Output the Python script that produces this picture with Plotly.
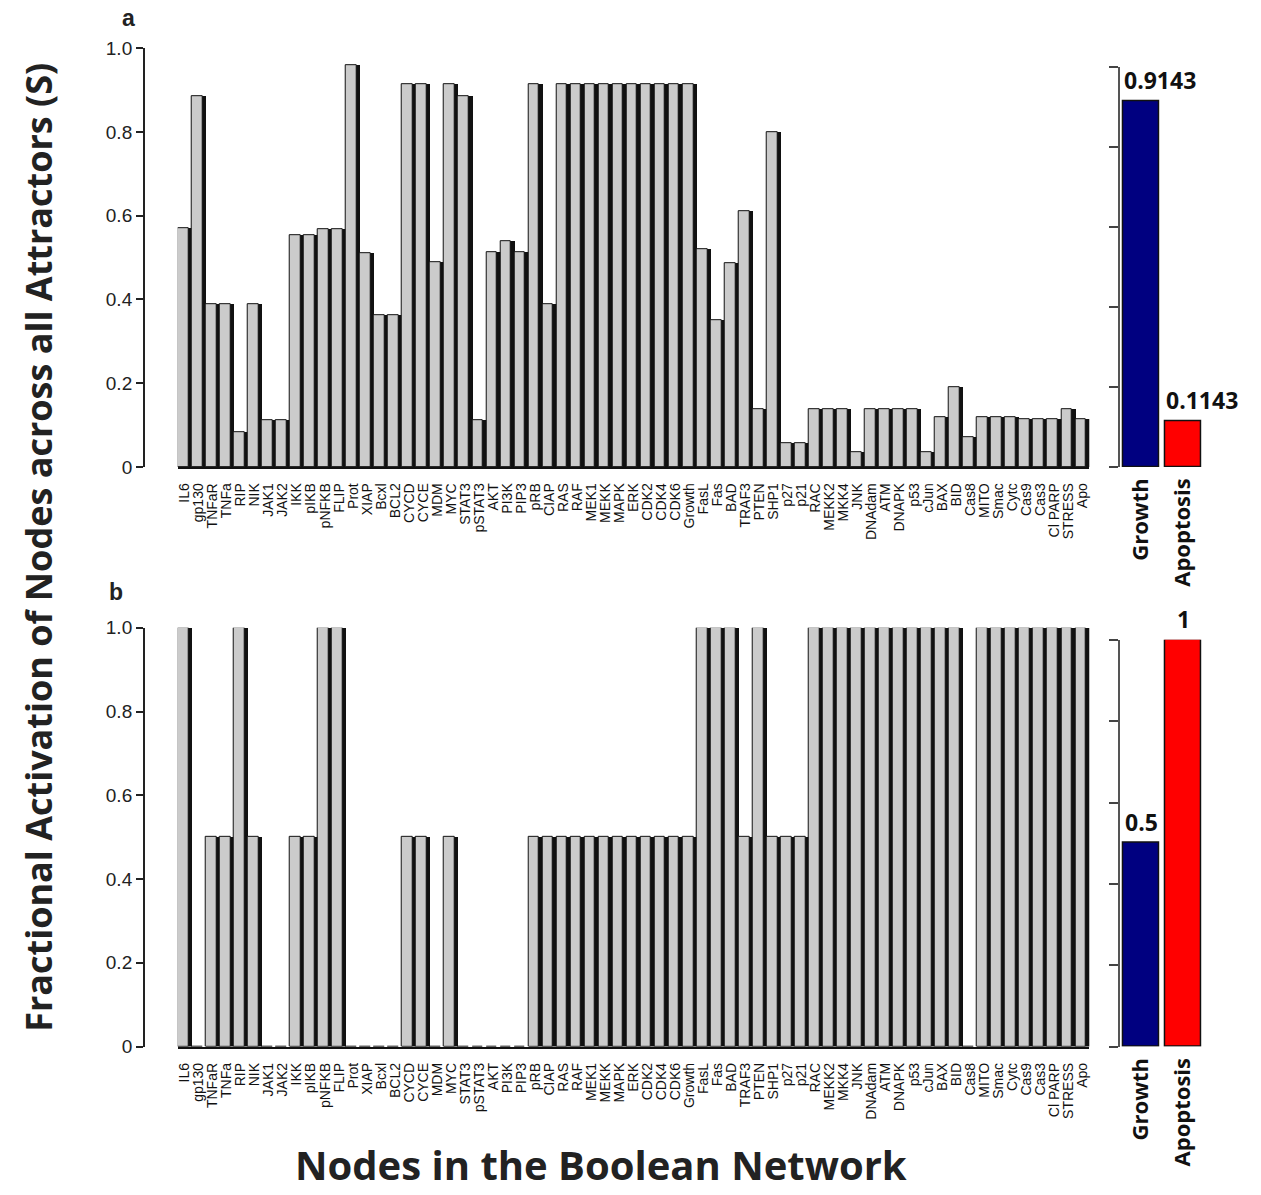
import plotly.graph_objects as go

# ---------------- data ----------------
nodes = ["IL6", "gp130", "TNFaR", "TNFa", "RIP", "NIK", "JAK1", "JAK2", "IKK", "pIKB",
         "pNFKB", "FLIP", "Prot", "XIAP", "Bcxl", "BCL2", "CYCD", "CYCE", "MDM", "MYC",
         "STAT3", "pSTAT3", "AKT", "PI3K", "PIP3", "pRB", "CIAP", "RAS", "RAF", "MEK1",
         "MEKK", "MAPK", "ERK", "CDK2", "CDK4", "CDK6", "Growth", "FasL", "Fas", "BAD",
         "TRAF3", "PTEN", "SHP1", "p27", "p21", "RAC", "MEKK2", "MKK4", "JNK", "DNAdam",
         "ATM", "DNAPK", "p53", "cJun", "BAX", "BID", "Cas8", "MITO", "Smac", "Cytc",
         "Cas9", "Cas3", "Cl PARP", "STRESS", "Apo"]

activation_a = [0.570, 0.886, 0.389, 0.389, 0.083, 0.389, 0.111, 0.111, 0.553, 0.553,
                0.567, 0.567, 0.960, 0.510, 0.362, 0.362, 0.914, 0.914, 0.490, 0.914,
                0.886, 0.111, 0.514, 0.540, 0.514, 0.914, 0.389, 0.914, 0.914, 0.914,
                0.914, 0.914, 0.914, 0.914, 0.914, 0.914, 0.914, 0.520, 0.350, 0.486,
                0.610, 0.139, 0.800, 0.056, 0.056, 0.139, 0.139, 0.139, 0.036, 0.139,
                0.139, 0.139, 0.139, 0.036, 0.120, 0.190, 0.071, 0.120, 0.120, 0.120,
                0.114, 0.114, 0.114, 0.139, 0.114]

activation_b = [1, 0, 0.5, 0.5, 1, 0.5, 0, 0, 0.5, 0.5,
                1, 1, 0, 0, 0, 0, 0.5, 0.5, 0, 0.5,
                0, 0, 0, 0, 0, 0.5, 0.5, 0.5, 0.5, 0.5,
                0.5, 0.5, 0.5, 0.5, 0.5, 0.5, 0.5, 1, 1, 1,
                0.5, 1, 0.5, 0.5, 0.5, 1, 1, 1, 1, 1,
                1, 1, 1, 1, 1, 1, 0, 1, 1, 1,
                1, 1, 1, 1, 1]

fates = ["Growth", "Apoptosis"]
fate_a = [0.9143, 0.1143]
fate_b = [0.5, 1]
fate_colors = ["#000080", "#FF0000"]

y_ticks = [0, 0.2, 0.4, 0.6, 0.8, 1.0]
y_ticktext = ["0", "0.2", "0.4", "0.6", "0.8", "1.0"]

# ---------------- geometry helpers ----------------
W, H = 1261, 1195
def px(x): return x / W
# vertical calibration of the rendered page (observed slight squash/offset)
def py(y): return 1 - ((y - 9.8) / 0.983) / H

fig = go.Figure()

BOLD = "Open Sans"

def main_panel(vals, xa, ya):
    # dark right-hand stripe of each bar
    fig.add_trace(go.Bar(x=nodes, y=vals, xaxis=xa, yaxis=ya, width=1.0, offset=-0.5,
                         marker=dict(color="#111111", line=dict(width=0)),
                         cliponaxis=False, showlegend=False, hoverinfo="skip"))
    # light grey body with black outline
    fig.add_trace(go.Bar(x=nodes, y=vals, xaxis=xa, yaxis=ya, width=0.76, offset=-0.5,
                         marker=dict(color="#CBCBCB", line=dict(color="#111111", width=1)),
                         cliponaxis=False, showlegend=False))

def side_panel(vals, xa, ya):
    fig.add_trace(go.Bar(x=fates, y=vals, xaxis=xa, yaxis=ya, width=0.84,
                         marker=dict(color=fate_colors, line=dict(color="#111111", width=1.5)),
                         cliponaxis=False, showlegend=False))
    for f, v in zip(fates, vals):
        lab = f"{v:g}"
        fig.add_annotation(x=f, y=v, xref=xa, yref=ya, text=f"<b>{lab}</b>",
                           showarrow=False, yanchor="bottom", yshift=3,
                           xanchor="left" if len(lab) > 3 else "center",
                           xshift=-19 if len(lab) > 3 else 0,
                           font=dict(family=BOLD, size=23, color="#111111"))

main_panel(activation_a, "x", "y")
side_panel(fate_a, "x2", "y2")
main_panel(activation_b, "x3", "y3")
side_panel(fate_b, "x4", "y4")

main_x = dict(range=[-0.5, len(nodes) - 0.5], domain=[px(177), px(1090)], tickangle=-90,
              tickmode="linear", tick0=0, dtick=1,
              tickfont=dict(family="Liberation Sans", size=14, color="#111111"),
              ticks="", ticklabelstandoff=9, showline=True, linecolor="#111111",
              linewidth=1.5, showgrid=False, zeroline=False, type="category")
main_y = dict(range=[0, 1], tickvals=y_ticks, ticktext=y_ticktext, ticks="outside",
              ticklen=7, tickwidth=1.5, tickcolor="#222222", showline=True,
              linecolor="#222222", linewidth=1.5, showgrid=False, zeroline=False,
              tickfont=dict(family="Liberation Sans", size=19, color="#222222"),
              anchor="free", position=px(143))
side_x = dict(domain=[px(1121), px(1205)], range=[-0.5, 1.5], tickangle=-90, ticks="",
              ticklabelstandoff=6, showline=False, showgrid=False, zeroline=False,
              tickfont=dict(family=BOLD, size=22, color="#111111", weight="bold"),
              type="category")
side_y = dict(range=[0, 1], tickvals=y_ticks, showticklabels=False, ticks="outside",
              ticklen=9, tickwidth=1.5, tickcolor="#444444", showline=True,
              linecolor="#555555", linewidth=2, showgrid=False, zeroline=False)

fig.update_layout(
    width=W, height=H, margin=dict(l=0, r=0, t=0, b=0),
    paper_bgcolor="white", plot_bgcolor="white",
    barmode="overlay", bargap=0,
    xaxis=dict(main_x, anchor="y"),
    yaxis=dict(main_y, domain=[py(467), py(48)]),
    xaxis2=dict(side_x, anchor="y2"),
    yaxis2=dict(side_y, domain=[py(467), py(67)], anchor="x2"),
    xaxis3=dict(main_x, anchor="y3"),
    yaxis3=dict(main_y, domain=[py(1047), py(628)]),
    xaxis4=dict(side_x, anchor="y4"),
    yaxis4=dict(side_y, domain=[py(1047), py(640)], anchor="x4"),
)

fig.add_annotation(x=px(38), y=py(547), xref="paper", yref="paper", textangle=-90,
                   xanchor="center", yanchor="middle",
                   text="<b>Fractional Activation of Nodes across all Attractors (S)</b>",
                   showarrow=False, font=dict(family=BOLD, size=36, color="#222222"))
fig.add_annotation(x=px(601), y=py(1165), xref="paper", yref="paper",
                   xanchor="center", yanchor="middle",
                   text="<b>Nodes in the Boolean Network</b>",
                   showarrow=False, font=dict(family=BOLD, size=40, color="#222222"))
fig.add_annotation(x=px(128), y=py(18), xref="paper", yref="paper", text="<b>a</b>",
                   xanchor="center", yanchor="middle",
                   showarrow=False, font=dict(family="Liberation Sans", size=23, color="#222222"))
fig.add_annotation(x=px(115), y=py(592), xref="paper", yref="paper", text="<b>b</b>",
                   xanchor="center", yanchor="middle",
                   showarrow=False, font=dict(family="Liberation Sans", size=23, color="#222222"))

fig.write_html("out.html")
